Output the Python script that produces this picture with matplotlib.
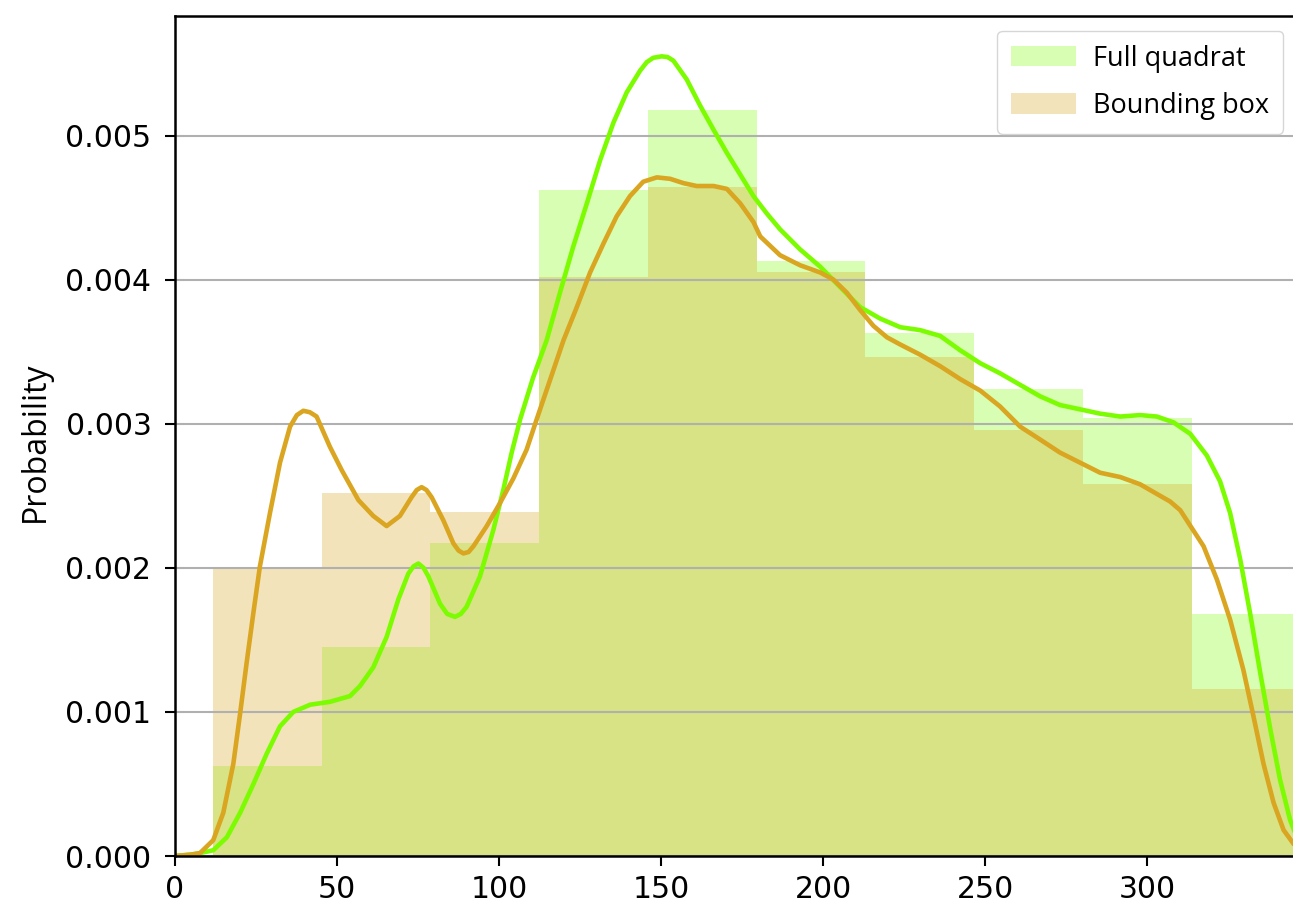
import numpy as np
import matplotlib.pyplot as plt

# Histogram bins (shared by both groups)
bin_edges = [11.7, 45.3, 78.8, 112.4, 145.9, 179.5, 213.0, 246.6, 280.1, 313.7, 347.2]

# Density per bin
full_hist = [0.000627, 0.00145, 0.00217, 0.00462, 0.00518, 0.00413, 0.00363, 0.00324, 0.00304, 0.00168]
bbox_hist = [0.00199, 0.00252, 0.00239, 0.00402, 0.00464, 0.00405, 0.00346, 0.00296, 0.00258, 0.00116]

# Kernel density curves (x, density x 1e-3)
full_kde_x = [0, 5, 7.7, 11.8, 16.0, 20.1, 24.2, 28.3, 32.4, 36.5, 41.7, 47.8, 54.0, 57.1,
              61.2, 65.3, 68.9, 72.0, 73.6, 75.1, 76.7, 78.2, 81.8, 84.0, 86.4, 88.2, 90.0,
              94.1, 98.2, 101.3, 103.9, 106.5, 110.5, 114.7, 118.8, 122.9, 127.1, 131.2,
              135.3, 139.4, 143.5, 145.6, 147.6, 150.2, 152.0, 153.8, 157.9, 162.0, 166.2,
              170.3, 174.4, 178.5, 182.6, 186.7, 192.9, 199.1, 205.2, 211.4, 217.6, 223.8,
              229.9, 236.1, 242.3, 248.5, 254.6, 260.8, 267.0, 273.1, 279.3, 285.5, 291.7,
              297.8, 303.0, 308.1, 313.3, 318.4, 322.5, 325.6, 328.7, 331.8, 334.9, 338.0,
              341.0, 344.1, 346.0]
full_kde_y = [0.0, 0.01, 0.02, 0.04, 0.13, 0.30, 0.50, 0.71, 0.90, 1.00, 1.05, 1.07, 1.11, 1.18,
              1.31, 1.52, 1.78, 1.96, 2.01, 2.03, 2.00, 1.94, 1.75, 1.68, 1.66, 1.68, 1.73,
              1.94, 2.26, 2.54, 2.80, 3.03, 3.32, 3.58, 3.91, 4.23, 4.53, 4.83,
              5.09, 5.30, 5.45, 5.51, 5.54, 5.55, 5.545, 5.52, 5.39, 5.21, 5.04,
              4.88, 4.73, 4.58, 4.46, 4.35, 4.21, 4.09, 3.95, 3.81, 3.73, 3.67,
              3.65, 3.61, 3.51, 3.42, 3.35, 3.27, 3.19, 3.13, 3.10, 3.07, 3.05,
              3.06, 3.05, 3.01, 2.93, 2.78, 2.60, 2.38, 2.06, 1.68, 1.27, 0.88,
              0.53, 0.25, 0.14]

bbox_kde_x = [0, 5, 7.7, 11.8, 14.9, 18.0, 20.1, 22.1, 24.2, 26.2, 29.3, 32.4, 35.5, 37.6,
              39.6, 41.6, 43.7, 47.8, 51.4, 56.6, 61.2, 65.3, 69.4, 73.0, 74.6, 76.1, 77.6,
              79.2, 82.8, 85.9, 87.5, 89.0, 90.6, 92.1, 96.2, 100.3, 104.4, 108.5, 111.6,
              119.9, 124.0, 128.1, 132.2, 136.3, 140.4, 144.5, 148.7, 152.8, 156.9, 161.0,
              166.2, 170.3, 174.4, 178.5, 180.6, 186.7, 192.9, 199.1, 203.2, 207.3, 211.4,
              215.5, 219.7, 223.8, 229.9, 236.1, 242.3, 248.5, 254.6, 260.8, 267.0, 273.1,
              279.3, 285.5, 291.7, 297.8, 304.0, 307.1, 310.2, 317.4, 321.5, 325.6, 329.7,
              332.8, 335.9, 339.0, 342.1, 345.0]
bbox_kde_y = [0.0, 0.01, 0.02, 0.11, 0.30, 0.64, 0.99, 1.34, 1.69, 2.01, 2.38, 2.73, 2.98, 3.06,
              3.09, 3.08, 3.05, 2.84, 2.68, 2.47, 2.36, 2.29, 2.36, 2.49, 2.54, 2.56, 2.54,
              2.49, 2.33, 2.17, 2.12, 2.10, 2.11, 2.15, 2.29, 2.45, 2.62, 2.82, 3.03,
              3.58, 3.81, 4.05, 4.25, 4.44, 4.58, 4.68, 4.71, 4.70, 4.67, 4.65,
              4.65, 4.63, 4.53, 4.40, 4.30, 4.17, 4.10, 4.05, 4.00, 3.91, 3.79,
              3.68, 3.60, 3.55, 3.48, 3.40, 3.31, 3.23, 3.12, 2.98, 2.89, 2.80,
              2.73, 2.66, 2.63, 2.58, 2.50, 2.46, 2.40, 2.15, 1.92, 1.64, 1.29,
              0.97, 0.64, 0.37, 0.18, 0.09]

labels = ["Full quadrat", "Bounding box"]

fig = plt.figure(figsize=(12.93, 9.08), dpi=100)
ax = fig.add_axes([175 / 1293, 1 - 856 / 908, 1 - 175 / 1293, (856 - 16) / 908])

edges = np.array(bin_edges)
widths = np.diff(edges)
ax.bar(edges[:-1], full_hist, width=widths, align="edge", color="lawngreen",
       alpha=0.3, linewidth=0, label=labels[0])
ax.bar(edges[:-1], bbox_hist, width=widths, align="edge", color="goldenrod",
       alpha=0.3, linewidth=0, label=labels[1])

ax.plot(full_kde_x, np.array(full_kde_y) / 1000, color="lawngreen", lw=3.3,
        solid_joinstyle="round")
ax.plot(bbox_kde_x, np.array(bbox_kde_y) / 1000, color="goldenrod", lw=3.3,
        solid_joinstyle="round")

ax.set_xlim(0, 345)
ax.set_ylim(0, 0.00583)
ax.set_xticks([0, 50, 100, 150, 200, 250, 300])
ax.set_yticks([0, 0.001, 0.002, 0.003, 0.004, 0.005])
ax.yaxis.set_major_formatter(plt.FormatStrFormatter("%.3f"))
ax.tick_params(labelsize=21.5, length=7.5, width=1.5)
ax.tick_params(axis="y", pad=9.5)
ax.tick_params(axis="x", pad=6)
ax.grid(axis="y", color="#b0b0b0", lw=1.5)
for side in ["left", "bottom", "top"]:
    ax.spines[side].set_linewidth(1.8)
ax.spines["right"].set_visible(False)

ax.set_ylabel("Probability", fontsize=23, family="Open Sans")
ax.yaxis.set_label_coords(-0.110, 0.493)

ax.legend(loc="upper right", bbox_to_anchor=(1283 / 1293, 1 - 31 / 908),
          bbox_transform=fig.transFigure, borderaxespad=0,
          prop={"family": "Open Sans", "size": 19.5},
          handlelength=2.4, handleheight=0.8, handletextpad=0.65,
          labelspacing=0.72, borderpad=0.5)

fig.savefig("out.png", dpi=100)
